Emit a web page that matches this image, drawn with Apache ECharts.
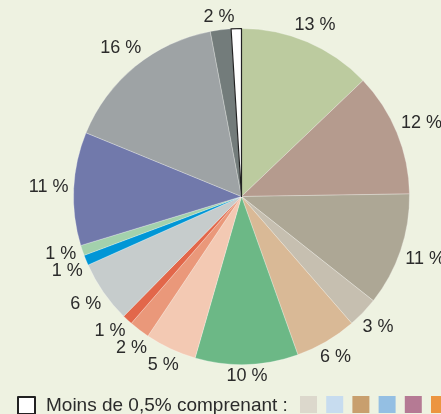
<!DOCTYPE html>
<html>
<head>
<meta charset="utf-8">
<script src="https://cdn.jsdelivr.net/npm/echarts@6/dist/echarts.min.js"></script>
<style>
  html, body { margin: 0; padding: 0; background: #eef2e1; }
  #chart { width: 441px; height: 414px; }
</style>
</head>
<body>
<div id="chart"></div>
<script>
// Shares, clockwise from 12 o'clock
const categories = [
  'Part A', 'Part B', 'Part C', 'Part D', 'Part E', 'Part F', 'Part G', 'Part H',
  'Part I', 'Part J', 'Part K', 'Part L', 'Part M', 'Part N', 'Part O',
  'Moins de 0,5% comprenant :'
];
const values = [13, 12, 11, 3, 6, 10, 5, 2, 1, 6, 1, 1, 11, 16, 2, 1];
const colors = [
  '#bccb9f', '#b59b8e', '#ada795', '#c6bfb0', '#d9b996', '#6cb886', '#f3c9b3', '#ea987a',
  '#e2674a', '#c6cccc', '#0096d6', '#a3d1ac', '#7179ab', '#9ea3a5', '#737c7b', '#ffffff'
];
// Colours of the items grouped under the smallest slice
const smallItemColors = ['#dcd8cc', '#c7dcef', '#c89f6e', '#94bfe3', '#b57a94', '#ec9540'];

const otherName = categories[categories.length - 1];
const center = [241.5, 196.5];
const radius = 168;
const font = '"Liberation Sans", Arial, sans-serif';
const labelSize = 18;
const labelGap = 5;
const labelPad = 3;
const labelText = v => v + ' %';

// ---- label placement: each box sits a fixed gap outside the rim along its slice's
// middle direction; neighbouring boxes that collide are fanned apart a little.
const measureCtx = document.createElement('canvas').getContext('2d');
measureCtx.font = labelSize + 'px ' + font;
const total = values.reduce((a, b) => a + b, 0);
const halfH = labelSize * 0.36;
const labels = [];
let cum = 0;
values.forEach((v, i) => {
  const mid = 360 * (cum + v / 2) / total;
  cum += v;
  if (categories[i] === otherName) return;
  labels.push({ index: i, angle: mid, halfW: measureCtx.measureText(labelText(v)).width / 2 });
});
function locate(l) {
  const a = l.angle * Math.PI / 180;
  const ux = Math.sin(a), uy = -Math.cos(a);
  const d = radius + labelGap + Math.abs(ux) * l.halfW + Math.abs(uy) * halfH;
  l.x = center[0] + ux * d;
  l.y = center[1] + uy * d;
}
function collide(a, b) {
  return Math.abs(a.x - b.x) < a.halfW + b.halfW + labelPad &&
         Math.abs(a.y - b.y) < 2 * halfH + labelPad;
}
labels.forEach(locate);
for (let iter = 0; iter < 300; iter++) {
  let moved = false;
  for (let k = 0; k + 1 < labels.length; k++) {
    const a = labels[k], b = labels[k + 1];
    if (collide(a, b)) {
      a.angle -= 0.25; b.angle += 0.25;
      locate(a); locate(b);
      moved = true;
    }
  }
  if (!moved) break;
}
const labelPos = {};
labels.forEach(l => { labelPos[l.index] = l; });

function placeLabel(p) {
  const l = labelPos[p.dataIndex];
  if (!l) return {};
  return { x: l.x, y: l.y, align: 'center', verticalAlign: 'middle' };
}

const sliceData = categories.map((name, i) => {
  const item = { name, value: values[i], itemStyle: { color: colors[i] } };
  if (name === otherName) {
    item.itemStyle.borderColor = '#222';
    item.itemStyle.borderWidth = 1.2;
    item.label = { show: false };
  }
  return item;
});

const chart = echarts.init(document.getElementById('chart'), null, { renderer: 'canvas' });
chart.setOption({
  backgroundColor: '#eef2e1',
  animation: false,
  legend: {
    data: [otherName],
    left: 17,
    top: 396,
    padding: 0,
    icon: 'rect',
    itemWidth: 17,
    itemHeight: 17,
    textStyle: { fontFamily: font, fontSize: 19, color: '#2b2b2b', padding: [0, 0, 0, 6] },
    selectedMode: false
  },
  graphic: smallItemColors.map((c, i) => ({
    type: 'rect',
    left: 300 + i * 26.2,
    top: 396,
    shape: { width: 17, height: 17 },
    style: { fill: c }
  })),
  series: [
    {
      type: 'pie',
      center,
      radius: [0, radius],
      startAngle: 90,
      clockwise: true,
      silent: true,
      avoidLabelOverlap: false,
      itemStyle: { borderColor: 'rgba(255,255,255,0.45)', borderWidth: 0.6 },
      label: {
        show: true,
        position: 'outside',
        formatter: p => labelText(p.value),
        fontFamily: font,
        fontSize: labelSize,
        color: '#2b2b2b'
      },
      labelLine: { show: false, length: 5, length2: 0 },
      labelLayout: placeLabel,
      data: sliceData
    }
  ]
});
</script>
</body>
</html>
